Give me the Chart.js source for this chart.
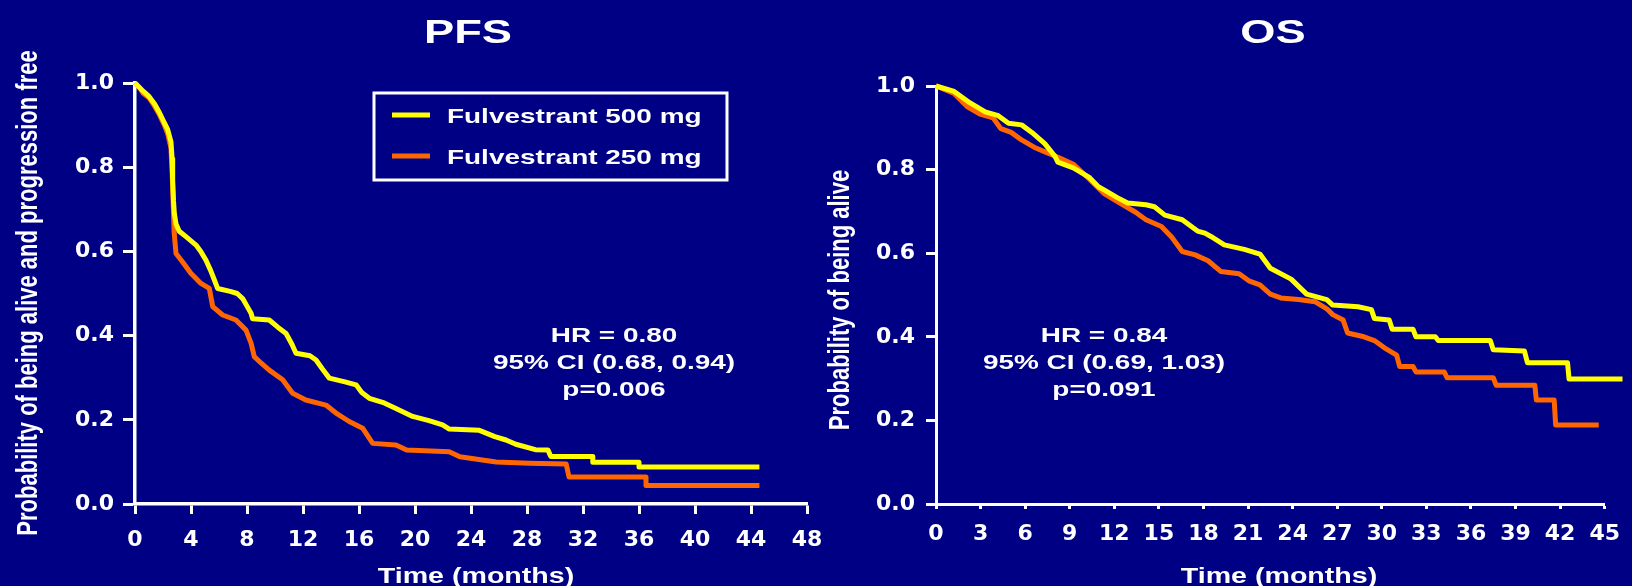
<!DOCTYPE html>
<html>
<head>
<meta charset="utf-8">
<title>Fulvestrant 500 mg vs 250 mg - PFS / OS</title>
<script src="https://cdn.jsdelivr.net/npm/chart.js@4.4.0/dist/chart.umd.min.js"></script>
<style>
  html, body { margin: 0; padding: 0; background: #000084; overflow: hidden; }
  body { width: 1632px; height: 586px; position: relative; }
  canvas { position: absolute; top: 0; }
  #pfs { left: 0; }
  #os { left: 816px; }
</style>
</head>
<body>
<canvas id="pfs" width="840" height="586"></canvas>
<canvas id="os" width="816" height="586"></canvas>
<script>
const seriesLabels = ['Fulvestrant 500 mg', 'Fulvestrant 250 mg']
const seriesColors = ['#ffff00', '#ff6600']

// Kaplan-Meier curves (months, probability).
// Dense parts are traced point by point, the long flat steps of the tails keep both corners.
const pfsTime500 = [0, 0.3, 0.6, 1.0, 1.4, 1.74, 2.1, 2.33, 2.57, 2.65, 2.69, 2.75, 2.81, 2.93, 3.16, 3.64, 4.36, 4.7, 5.07, 5.4, 5.67, 5.9, 6.8, 7.3, 7.69, 8.0, 8.29, 8.4, 9.59, 10.2, 10.79, 11.2, 11.5, 12.5, 12.93, 13.4, 13.88, 15.0, 15.79, 16.2, 16.74, 17.8, 18.64, 19.83, 21.0, 21.97, 22.45, 24.6, 25.7, 26.5, 27.2, 28.6, 29.5, 29.7, 32.7, 32.7, 36.0, 36.0, 44.6]
const pfsSurv500 = [1.0, 0.99, 0.98, 0.968, 0.95, 0.93, 0.905, 0.89, 0.86, 0.82, 0.77, 0.72, 0.69, 0.665, 0.648, 0.635, 0.615, 0.6, 0.579, 0.555, 0.532, 0.512, 0.505, 0.5, 0.488, 0.47, 0.453, 0.44, 0.437, 0.42, 0.405, 0.38, 0.358, 0.352, 0.342, 0.32, 0.299, 0.29, 0.283, 0.265, 0.251, 0.24, 0.227, 0.208, 0.198, 0.188, 0.178, 0.175, 0.16, 0.152, 0.142, 0.129, 0.128, 0.113, 0.113, 0.099, 0.099, 0.088, 0.088]
const pfsTime250 = [0, 0.3, 0.6, 1.0, 1.4, 1.74, 2.1, 2.33, 2.57, 2.65, 2.72, 2.8, 2.93, 3.4, 3.99, 4.71, 5.31, 5.55, 6.26, 7.21, 7.93, 8.29, 8.52, 9.0, 9.59, 10.55, 11.26, 12.2, 13.64, 14.36, 15.3, 16.26, 16.98, 18.64, 19.4, 22.45, 23.2, 25.8, 28.2, 30.8, 31.0, 36.5, 36.5, 44.6]
const pfsSurv250 = [1.0, 0.99, 0.975, 0.965, 0.945, 0.925, 0.9, 0.88, 0.845, 0.79, 0.72, 0.643, 0.595, 0.575, 0.548, 0.524, 0.512, 0.469, 0.449, 0.437, 0.413, 0.382, 0.35, 0.335, 0.318, 0.295, 0.263, 0.247, 0.235, 0.216, 0.196, 0.18, 0.144, 0.14, 0.128, 0.124, 0.112, 0.1, 0.097, 0.095, 0.064, 0.064, 0.044, 0.044]

const osTime500 = [0, 1.22, 2.27, 3.31, 4.19, 4.88, 5.76, 6.45, 7.32, 8.02, 8.2, 9.24, 10.29, 10.93, 11.34, 12.2, 12.9, 14.13, 14.7, 15.4, 16.57, 17.6, 18.1, 18.5, 19.4, 20.75, 21.8, 22.5, 23.9, 24.94, 26.3, 26.7, 28.4, 29.3, 29.5, 30.5, 30.7, 32.1, 32.3, 33.6, 33.8, 37.3, 37.5, 39.6, 39.8, 42.5, 42.6, 46.2]
const osSurv500 = [1.0, 0.987, 0.96, 0.938, 0.929, 0.911, 0.907, 0.889, 0.862, 0.831, 0.818, 0.804, 0.782, 0.759, 0.751, 0.733, 0.72, 0.716, 0.711, 0.691, 0.68, 0.653, 0.648, 0.64, 0.62, 0.609, 0.598, 0.564, 0.538, 0.502, 0.489, 0.476, 0.472, 0.465, 0.444, 0.44, 0.418, 0.418, 0.4, 0.4, 0.391, 0.391, 0.369, 0.366, 0.338, 0.338, 0.299, 0.299]
const osTime250 = [0, 1.22, 2.09, 2.96, 3.84, 4.36, 5.06, 5.76, 6.63, 7.5, 8.37, 9.24, 10.29, 11.34, 12.38, 13.43, 14.13, 15.17, 15.87, 16.57, 17.44, 18.31, 19.18, 20.4, 21.1, 21.8, 22.5, 23.2, 24.4, 25.5, 26.3, 26.7, 27.4, 27.7, 28.8, 29.5, 30.2, 31.0, 31.2, 32.1, 32.3, 34.2, 34.4, 37.5, 37.7, 40.3, 40.4, 41.6, 41.7, 44.6]
const osSurv250 = [1.0, 0.982, 0.951, 0.933, 0.924, 0.898, 0.889, 0.871, 0.853, 0.84, 0.827, 0.813, 0.778, 0.742, 0.72, 0.698, 0.68, 0.664, 0.638, 0.604, 0.596, 0.582, 0.556, 0.551, 0.533, 0.524, 0.502, 0.493, 0.489, 0.484, 0.467, 0.453, 0.44, 0.409, 0.4, 0.391, 0.373, 0.356, 0.329, 0.329, 0.316, 0.316, 0.302, 0.302, 0.284, 0.284, 0.249, 0.249, 0.189, 0.189]

const pfsXTicks = [0, 4, 8, 12, 16, 20, 24, 28, 32, 36, 40, 44, 48]
const osXTicks = [0, 3, 6, 9, 12, 15, 18, 21, 24, 27, 30, 33, 36, 39, 42, 45]
const yTicks = ['0.0', '0.2', '0.4', '0.6', '0.8', '1.0']

const pfsStats = ['HR = 0.80', '95% CI (0.68, 0.94)', 'p=0.006']
const osStats = ['HR = 0.84', '95% CI (0.69, 1.03)', 'p=0.091']

const ARIAL = '"Liberation Sans", Arial, sans-serif'
const SX = 1.33 // the slide text is stretched sideways

function wideText(ctx, text, x, y, size, align) {
    ctx.save()
    ctx.translate(x, y)
    ctx.scale(SX, 1)
    ctx.font = `bold ${size}px ${ARIAL}`
    ctx.textAlign = align || 'center'
    ctx.textBaseline = 'alphabetic'
    ctx.fillText(text, 0, 0)
    ctx.restore()
}

// titles, stats and the boxed legend
const decor = {
    id: 'decor',
    afterDraw(chart, args, o) {
        const ctx = chart.ctx
        ctx.save()
        ctx.fillStyle = '#ffffff'
        wideText(ctx, o.title, o.titleX, 43, 34)
        wideText(ctx, 'Time (months)', o.xTitleX, 583, 21.5)

        ctx.save()
        ctx.translate(o.yTitleX, o.yTitleY)
        ctx.rotate(-Math.PI / 2)
        ctx.scale(1, SX)
        ctx.font = `bold 22px ${ARIAL}`
        ctx.textAlign = 'center'
        ctx.textBaseline = 'middle'
        ctx.fillText(o.yTitle, 0, 0)
        ctx.restore()

        o.stats.forEach((s, i) => wideText(ctx, s, o.statsX, 342 + i * 27, 21))

        if (o.legend) {
            ctx.strokeStyle = '#ffffff'
            ctx.lineWidth = 3
            ctx.strokeRect(374, 93, 353, 87)
            chart.data.datasets.forEach((ds, i) => {
                const y = 115 + i * 41
                ctx.strokeStyle = ds.borderColor
                ctx.lineWidth = 5
                ctx.beginPath()
                ctx.moveTo(392, y)
                ctx.lineTo(430, y)
                ctx.stroke()
                wideText(ctx, ds.label, 447, y + 7.5, 21, 'left')
            })
        }
        ctx.restore()
    }
}

function toPoints(times, surv) {
    return times.map((t, i) => ({ x: t, y: surv[i] }))
}

function makeChart(id, cfg) {
    const tickFont = { family: '"DejaVu Sans", sans-serif', weight: 'bold', size: 22 }
    return new Chart(document.getElementById(id), {
        type: 'line',
        data: {
            datasets: cfg.series.map((s, i) => ({
                label: seriesLabels[i],
                data: toPoints(s[0], s[1]),
                borderColor: seriesColors[i],
                borderWidth: cfg.lineWidth,
                borderJoinStyle: 'round',
                pointRadius: 0,
                tension: 0,
                fill: false,
                clip: false,
                order: i // 500 mg drawn on top
            }))
        },
        options: {
            responsive: false,
            devicePixelRatio: 1,
            animation: false,
            layout: { padding: { top: cfg.padTop, right: cfg.padRight, bottom: 0, left: 0 } },
            plugins: {
                legend: { display: false },
                tooltip: { enabled: false },
                decor: cfg.decor
            },
            scales: {
                x: {
                    type: 'linear',
                    min: 0,
                    max: cfg.xTicks[cfg.xTicks.length - 1],
                    afterBuildTicks: s => { s.ticks = cfg.xTicks.map(v => ({ value: v })) },
                    afterFit: s => { s.height = 82 },
                    ticks: { color: '#ffffff', font: tickFont, padding: cfg.xTickPad, maxRotation: 0, autoSkip: false },
                    grid: { drawOnChartArea: false, drawTicks: true, tickLength: cfg.xTickLen, tickWidth: 3, tickColor: '#ffffff' },
                    border: { display: true, color: '#ffffff', width: cfg.axisWidth }
                },
                y: {
                    min: 0,
                    max: 1,
                    afterBuildTicks: s => { s.ticks = yTicks.map(v => ({ value: parseFloat(v) })) },
                    afterFit: s => { s.width = cfg.yWidth },
                    ticks: { color: '#ffffff', font: tickFont, padding: cfg.yTickPad, callback: v => v.toFixed(1) },
                    grid: { drawOnChartArea: false, drawTicks: true, tickLength: cfg.yTickLen, tickWidth: 3, tickColor: '#ffffff' },
                    border: { display: true, color: '#ffffff', width: cfg.axisWidth }
                }
            }
        },
        plugins: [decor]
    })
}

makeChart('pfs', {
    series: [[pfsTime500, pfsSurv500], [pfsTime250, pfsSurv250]],
    xTicks: pfsXTicks,
    yWidth: 135, padTop: 83, padRight: 33,
    xTickLen: 10, xTickPad: 13, yTickLen: 12, yTickPad: 9,
    axisWidth: 3.5, lineWidth: 5,
    decor: {
        title: 'PFS', titleX: 468, xTitleX: 476,
        yTitle: 'Probability of being alive and progression free', yTitleX: 29, yTitleY: 293,
        stats: pfsStats, statsX: 614, legend: true
    }
})

makeChart('os', {
    series: [[osTime500, osSurv500], [osTime250, osSurv250]],
    xTicks: osXTicks,
    yWidth: 120, padTop: 86, padRight: 22,
    xTickLen: 5, xTickPad: 12, yTickLen: 10, yTickPad: 11,
    axisWidth: 3, lineWidth: 5,
    decor: {
        title: 'OS', titleX: 457, xTitleX: 463,
        yTitle: 'Probability of being alive', yTitleX: 25, yTitleY: 300,
        stats: osStats, statsX: 288, legend: false
    }
})
</script>
</body>
</html>
